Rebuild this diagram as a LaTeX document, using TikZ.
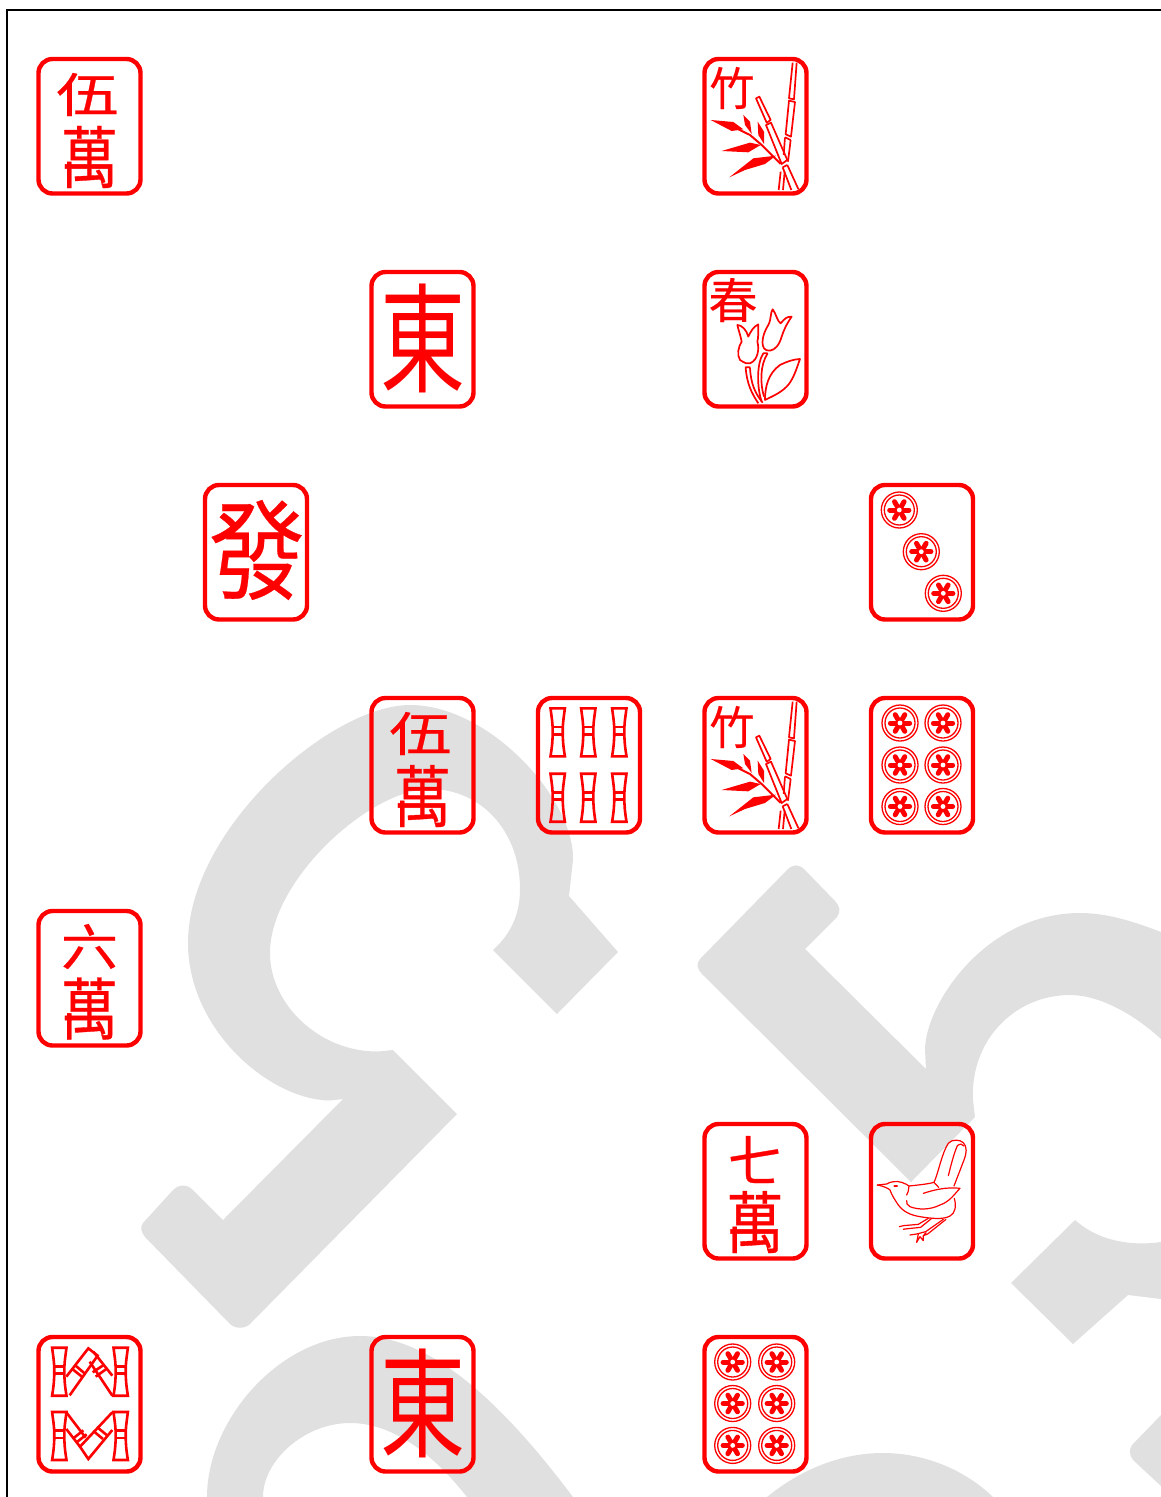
\documentclass[tikz,border=0pt]{standalone}
\usepackage{graphicx}
\usepackage{fontspec}
\newfontfamily\cjkfont{Noto Sans CJK TC}
\newfontfamily\cjkheavy[FakeBold=0.5]{Noto Sans CJK TC}
\newfontfamily\cjkmid[FakeBold=0.25]{Noto Sans CJK TC}
\definecolor{wm}{HTML}{E0E0E0}
\tikzset{
  wmark/.style={fill=wm,draw=none},
  tileframe/.style={draw=red,line width=4.4pt,rounded corners=14pt},
  glyphnode/.style={inner sep=0pt,outer sep=0pt,text=red},
  thinred/.style={draw=red,line width=1.7pt,line join=round},
  midred/.style={draw=red,line width=2.6pt,line join=miter},
  hairred/.style={draw=red,line width=1.2pt,line join=round,line cap=round},
  leaf/.style={fill=red,draw=none},
}
\newcommand\tileframe[2]{\draw[tileframe] (#1,#2) rectangle ++(102,134.5);}
\newcommand\tileglyph[6]{\node[glyphnode] (#1) at (#2,#3) {\resizebox*{#4pt}{#5pt}{#6}};}
\newcommand\onestick[2]{%
  \begin{scope}[shift={(#1,#2)}]
    \draw[midred] (-7.2,-24) -- (7.2,-24) .. controls (5.6,-12) and (5,-8) .. (5,-1) .. controls (5,8) and (5.6,14) .. (7.2,24) -- (-7.2,24) .. controls (-5.6,14) and (-5,8) .. (-5,-1) .. controls (-5,-8) and (-5.6,-12) .. (-7.2,-24) -- cycle;
    \draw[midred] (-5,-5.4) -- (5,-5.4) (-5,2) -- (5,2);
  \end{scope}}
\newcommand\onedot[2]{%
  \begin{scope}[shift={(#1,#2)}]
    \draw[red,line width=1.3pt] (0,0) circle (18pt);
    \draw[red,line width=1.3pt] (0,0) circle (15pt);
    \foreach \a in {0,60,...,300} \draw[red,line width=5pt,line cap=round] (\a:4) -- (\a:9.6);
    \fill[red] (0,0) circle (5pt);
    \fill[white] (0,0) circle (2.4pt);
  \end{scope}}
\newcommand\bambooplant[2]{%
  \begin{scope}[shift={(690+#1,40+#2)},x=0.3333pt,y=-0.3333pt]
    \fill[leaf] (62,240) -- (130,246) -- (160,268) -- (125,273) -- cycle;
    \fill[leaf] (160,225) -- (180,245) -- (185,282) -- (165,255) -- cycle;
    \fill[leaf] (203,245) -- (222,275) -- (222,312) -- (205,285) -- cycle;
    \fill[leaf] (95,333) -- (180,308) -- (212,315) -- (175,337) -- cycle;
    \fill[leaf] (118,412) -- (190,355) -- (258,347) -- (225,372) -- (165,390) -- cycle;
    \draw[red,line width=2pt] (125,258) -- (180,285) -- (215,315) -- (272,372);
    \draw[thinred] (198,175) -- (208,170) -- (242,240) -- (230,248) -- cycle;
    \draw[thinred] (228,255) -- (243,248) -- (292,360) -- (275,372) -- cycle;
    \draw[thinred] (278,382) -- (292,375) (278,382) -- (304,450) (292,375) -- (325,447);
    \draw[thinred] (308,68) -- (297,175) -- (312,178) -- (320,68);
    \draw[thinred] (297,182) -- (287,283) -- (303,290) -- (315,186) -- cycle;
    \draw[thinred] (285,292) -- (302,300) (285,292) -- (281,345) (302,300) -- (294,365);
    \draw[thinred] (272,395) -- (266,450) (284,395) -- (279,450);
  \end{scope}}
\begin{document}
\begin{tikzpicture}[x=1pt,y=-1pt]
\useasboundingbox (0,0) rectangle (1161,1497);
% ---- watermark shapes
\fill[wmark] (457,1114) -- (393,1050) -- (378,1051.5)
  .. controls (320,1052) and (270,1005) .. (270,953)
  .. controls (270,880) and (370,789) .. (430,789)
  .. controls (480,789) and (520,830) .. (520,889)
  .. controls (520,915) and (510,935) .. (493,950)
  -- (557,1014) -- (618,952) -- (569,896) -- (573,860)
  .. controls (575,800) and (490,705) .. (410,705)
  .. controls (330,705) and (188,830) .. (188,943)
  .. controls (188,1030) and (270,1100) .. (330,1100.5)
  -- (343,1099)
  -- (223,1220) -- (193,1190) .. controls (187,1184) and (179,1184) .. (173,1190)
  -- (143,1223) .. controls (140,1227) and (141,1232) .. (145,1237)
  -- (230,1324) .. controls (235,1329) and (245,1329) .. (250,1324) -- cycle;
\fill[wmark] (805,870) .. controls (799,864) and (794,864) .. (788,869)
  -- (700,959) .. controls (696,964) and (697,969) .. (702,974)
  -- (911,1182) -- (975,1117) -- (973,1100)
  .. controls (970,1040) and (1015,995) .. (1070,995)
  .. controls (1100,995) and (1135,1015) .. (1161,1039)
  -- (1161,932)
  .. controls (1130,920) and (1105,913) .. (1080,913)
  .. controls (985,913) and (925,1005) .. (925,1050)
  -- (926,1069)
  -- (805,949) -- (837,917) .. controls (841,912) and (840,906) .. (835,901) -- cycle;
\fill[wmark] (1011,1283) -- (1075,1220)
  .. controls (1095,1238) and (1125,1247) .. (1161,1242)
  -- (1161,1299) -- (1128,1295) -- (1073,1344) -- cycle;
\fill[wmark] (207,1497) .. controls (207,1420) and (280,1336) .. (360,1336)
  .. controls (430,1336) and (500,1400) .. (573,1497)
  -- (467,1497) .. controls (430,1450) and (390,1423) .. (350,1423)
  .. controls (305,1423) and (263,1460) .. (263,1497) -- cycle;
\fill[wmark] (767,1497) .. controls (800,1470) and (840,1453) .. (883,1453)
  .. controls (925,1453) and (965,1470) .. (993,1497) -- cycle;
\fill[wmark] (1161,1415) -- (1132,1445) .. controls (1129,1449) and (1129,1455) .. (1133,1460) -- (1161,1486) -- cycle;
% ---- page border
\draw[black,line width=2pt] (7,1497) -- (7,10) -- (1161,10);
% ---- tiles
\tileframe{38.5}{59}
\tileglyph{wuA}{87.5}{94.5}{62}{43}{\cjkheavy 伍}
\tileglyph{wanA}{89.5}{157}{57}{62}{\cjkheavy 萬}
\tileframe{704.5}{59}
\tileglyph{zhuA}{732}{88}{45}{42}{\cjkmid 竹}
\bambooplant{0}{0}
\tileframe{371.5}{272}
\tileglyph{dongA}{422.5}{338.5}{85}{109}{\cjkfont 東}
\tileframe{704.5}{272}
\tileglyph{chun}{733}{300}{49}{44}{\cjkmid 春}
\begin{scope}[shift={(690,40)},x=0.3333pt,y=-0.3333pt]
  \draw[thinred] (222,925) .. controls (210,905) and (225,870) .. (235,855) .. controls (245,835) and (240,820) .. (248,808) .. controls (258,820) and (262,845) .. (272,850) .. controls (285,835) and (290,830) .. (305,830) .. controls (295,845) and (285,860) .. (275,890) .. controls (268,915) and (255,930) .. (240,932) .. controls (232,933) and (226,930) .. (222,925) -- cycle;
  \draw[thinred] (150,960) .. controls (140,945) and (145,920) .. (155,905) .. controls (150,880) and (145,870) .. (142,855) .. controls (155,855) and (170,870) .. (175,890) .. controls (182,875) and (190,860) .. (205,853) .. controls (205,880) and (205,895) .. (202,905) .. controls (208,925) and (205,960) .. (180,970) .. controls (172,972) and (165,970) .. (150,960) -- cycle;
  \draw[thinred] (180,982) -- (167,982) .. controls (170,1030) and (185,1060) .. (205,1090);
  \draw[thinred] (180,982) .. controls (182,1030) and (195,1060) .. (218,1088);
  \draw[thinred] (233,940) -- (220,940) .. controls (200,970) and (200,1040) .. (215,1085);
  \draw[thinred] (233,940) .. controls (210,975) and (210,1030) .. (222,1070);
  \draw[thinred] (225,1080) .. controls (225,1040) and (235,1000) .. (270,975) .. controls (290,965) and (310,958) .. (330,957) .. controls (320,985) and (310,1020) .. (290,1040) .. controls (270,1060) and (245,1070) .. (225,1080) -- cycle;
\end{scope}
\tileframe{205}{485}
\tileglyph{fa}{257}{550}{96}{100}{\cjkmid 發}
\tileframe{871}{485}
\onedot{899.3}{510}
\onedot{921.3}{551.7}
\onedot{943.3}{593.3}
\tileframe{371.5}{698}
\tileglyph{wuB}{420.5}{733.5}{62}{43}{\cjkheavy 伍}
\tileglyph{wanB}{422.5}{796}{57}{62}{\cjkheavy 萬}
\tileframe{538}{698}
\foreach \sx in {557.7,588.3,619.3} \foreach \sy in {732.3,797.7} {\onestick{\sx}{\sy}}
\tileframe{704.5}{698}
\tileglyph{zhuB}{732}{727}{45}{42}{\cjkmid 竹}
\bambooplant{0}{639}
\tileframe{871}{698}
\foreach \sx in {900,943} \foreach \sy in {723,765,806.5} {\onedot{\sx}{\sy}}
\tileframe{38.5}{911}
\tileglyph{liu}{89.5}{946.5}{57}{45}{\cjkheavy 六}
\tileglyph{wanC}{89.5}{1008.5}{57}{62}{\cjkheavy 萬}
\tileframe{704.5}{1124}
\tileglyph{qi}{755}{1159.5}{54}{47}{\cjkheavy 七}
\tileglyph{wanD}{755}{1222}{57}{62}{\cjkheavy 萬}
\tileframe{871}{1124}
\begin{scope}[shift={(860,1110)},x=0.3333pt,y=-0.3333pt]
  \draw[hairred] (52,225) -- (80,222) .. controls (90,215) and (110,212) .. (125,217) .. controls (135,220) and (143,225) .. (147,228) .. controls (175,225) and (205,222) .. (222,217);
  \draw[hairred] (222,217) .. controls (235,190) and (245,130) .. (265,100) .. controls (275,87) and (300,88) .. (310,98) .. controls (322,110) and (320,130) .. (312,150) -- (282,228);
  \draw[hairred] (265,197) .. controls (272,170) and (280,135) .. (292,107) .. controls (300,100) and (308,102) .. (312,108);
  \draw[hairred] (222,217) -- (236,232);
  \draw[hairred] (190,250) .. controls (220,240) and (260,230) .. (300,235) .. controls (285,250) and (270,275) .. (240,285) .. controls (210,300) and (175,300) .. (150,290) .. controls (142,285) and (138,280) .. (140,272);
  \draw[hairred] (52,225) .. controls (70,228) and (85,235) .. (90,240) .. controls (95,255) and (105,270) .. (115,285) .. controls (130,305) and (150,315) .. (180,320) .. controls (210,325) and (250,330) .. (270,318) .. controls (285,310) and (290,290) .. (283,265);
  \draw[hairred] (147,228) .. controls (145,240) and (145,250) .. (140,255);
  \fill[red] (107,228) ellipse (7 and 3);
  \draw[hairred] (205,325) -- (175,343) -- (130,347) -- (118,350);
  \draw[hairred] (215,325) -- (182,352) -- (135,357) -- (130,358);
  \draw[hairred] (250,328) -- (197,365) -- (170,372) -- (150,375);
  \draw[hairred] (258,328) -- (203,372) -- (190,377) -- (198,368);
  \draw[hairred] (175,372) -- (170,397) -- (180,380) -- (190,392) -- (190,377);
\end{scope}
\tileframe{704.5}{1337}
\foreach \sx in {732.7,776.7} \foreach \sy in {1362,1403.5,1445.4} {\onedot{\sx}{\sy}}
\tileframe{371.5}{1337}
\tileglyph{dongB}{422.5}{1403.5}{85}{109}{\cjkfont 東}
\tileframe{38.5}{1337}
\foreach \sx in {59.3,120.7} \foreach \sy in {1371.7,1436} {\onestick{\sx}{\sy}}
\begin{scope}[shift={(25,1325)},x=0.3333pt,y=-0.3333pt]
  \draw[midred] (124,155) -- (190,70) -- (218,92) -- (134,211);
  \draw[midred] (194,110) -- (262,212) (205,80) -- (262,152);
  \draw[midred] (142,132) -- (172,156) (152,122) -- (180,146);
  \draw[midred] (203,142) -- (236,120) (212,155) -- (244,132);
  \draw[midred] (262,262) -- (165,365) -- (190,402) -- (262,315);
  \draw[midred] (124,262) -- (182,338) (124,312) -- (165,365);
  \draw[midred] (145,340) -- (175,316) (155,352) -- (185,328);
  \draw[midred] (205,318) -- (234,342) (216,306) -- (245,330);
\end{scope}
\end{tikzpicture}
\end{document}
